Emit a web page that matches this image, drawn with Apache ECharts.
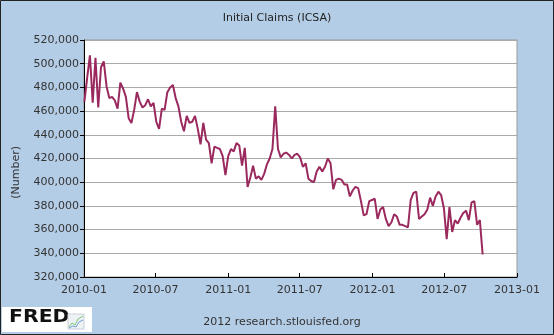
<!DOCTYPE html>
<html>
<head>
<meta charset="utf-8">
<script src="https://cdn.jsdelivr.net/npm/echarts@6/dist/echarts.min.js"></script>
<style>
  html, body { margin: 0; padding: 0; background: #b4cde6; }
  #chart { width: 554px; height: 335px; }
</style>
</head>
<body>
<div id="chart"></div>
<script>
// Weekly initial unemployment claims, seasonally adjusted (weeks ending Saturday)
const firstWeekEnding = '2010-01-02';
const claims = [
  468000, 488000, 507000, 467000, 505000, 463000, 497000, 502000, 481000, 471000,
  472000, 469000, 462000, 484000, 479000, 472000, 454000, 450000, 461000, 476000,
  468000, 463000, 465000, 470000, 464000, 467000, 451000, 445000, 462000, 461000,
  476000, 480000, 482000, 471000, 464000, 451000, 443000, 456000, 450000, 451000,
  456000, 445000, 432000, 450000, 436000, 433000, 416000, 430000, 429000, 428000,
  422000, 406000, 422000, 428000, 426000, 433000, 431000, 414000, 429000, 396000,
  404000, 414000, 403000, 405000, 402000, 407000, 415000, 420000, 428000, 464000,
  428000, 421000, 424000, 425000, 423000, 420000, 423000, 424000, 421000, 413000,
  416000, 403000, 401000, 400000, 409000, 413000, 409000, 413000, 420000, 416000,
  394000, 402000, 403000, 402000, 398000, 398000, 388000, 393000, 396000, 395000,
  384000, 372000, 373000, 384000, 385000, 386000, 369000, 377000, 379000, 369000,
  363000, 366000, 373000, 371000, 364000, 364000, 363000, 362000, 385000, 391000,
  392000, 369000, 371000, 373000, 377000, 387000, 380000, 388000, 392000, 389000,
  378000, 352000, 379000, 358000, 368000, 365000, 370000, 374000, 376000, 368000,
  383000, 384000, 364000, 368000, 339000
];
const yTicks = [320000, 340000, 360000, 380000, 400000, 420000, 440000, 460000, 480000, 500000, 520000];
const xRange = ['2010-01-01', '2013-01-01'];

function pad(n) { return (n < 10 ? '0' : '') + n; }

// one week-ending date per observation
const weekEndings = [];
{
  const d = new Date(firstWeekEnding + 'T00:00:00');
  for (let i = 0; i < claims.length; i++) {
    weekEndings.push(d.getFullYear() + '-' + pad(d.getMonth() + 1) + '-' + pad(d.getDate()));
    d.setDate(d.getDate() + 7);
  }
}
const seriesData = weekEndings.map((w, i) => [w, claims[i]]);

const FONT = 'DejaVu Sans';
const TEXT = '#333333';

const chart = echarts.init(document.getElementById('chart'), null, { renderer: 'canvas' });
chart.setOption({
  backgroundColor: '#b4cde6',
  animation: false,
  title: {
    text: 'Initial Claims (ICSA)',
    left: 'center',
    top: 8,
    textStyle: { fontFamily: FONT, fontSize: 11, fontWeight: 'normal', color: '#222222' }
  },
  grid: {
    left: 84, top: 40, right: 37, bottom: 58,
    show: true, backgroundColor: '#ffffff', borderColor: '#999999', borderWidth: 1
  },
  xAxis: {
    type: 'time',
    min: xRange[0],
    max: xRange[1],
    splitNumber: 6,
    axisLine: { show: true, lineStyle: { color: '#000000', width: 1 } },
    axisTick: { show: true, inside: true, length: 4, lineStyle: { color: '#000000' } },
    axisLabel: {
      show: true, margin: 8, color: TEXT, fontFamily: FONT, fontSize: 11,
      showMinLabel: true, showMaxLabel: true, hideOverlap: false,
      formatter: function (v) {
        const d = new Date(v);
        return d.getFullYear() + '-' + pad(d.getMonth() + 1);
      }
    },
    splitLine: { show: false }
  },
  yAxis: {
    type: 'value',
    min: yTicks[0],
    max: yTicks[yTicks.length - 1],
    interval: yTicks[1] - yTicks[0],
    axisLine: { show: true, lineStyle: { color: '#000000', width: 1 } },
    axisTick: { show: true, inside: false, length: 4, lineStyle: { color: '#000000' } },
    axisLabel: {
      margin: 5, color: TEXT, fontFamily: FONT, fontSize: 11,
      formatter: function (v) { return v.toLocaleString('en-US'); }
    },
    splitLine: { show: true, lineStyle: { color: '#aaaaaa', width: 1 } }
  },
  series: [{
    type: 'line',
    data: seriesData,
    showSymbol: false,
    symbol: 'none',
    lineStyle: { color: '#9a2a5e', width: 2 },
    z: 3
  }],
  graphic: [
    {
      type: 'text', left: 11, top: 146, rotation: Math.PI / 2,
      style: { text: '(Number)', font: '11px ' + FONT, fill: TEXT }
    },
    {
      type: 'text', x: 282, y: 322,
      style: { text: '2012 research.stlouisfed.org', font: '11px ' + FONT, fill: TEXT,
               align: 'center', verticalAlign: 'middle' }
    },
    {
      type: 'rect', shape: { x: 2, y: 307, width: 90, height: 25 },
      style: { fill: '#ffffff' }, silent: true
    },
    {
      type: 'text', x: 9, y: 318, scaleX: 1.2,
      style: { text: 'FRED', font: 'bold 17px ' + FONT, fill: '#111111', verticalAlign: 'middle' }
    },
    {
      type: 'rect', shape: { x: 68, y: 314, width: 16, height: 15 },
      style: { fill: '#eef2f4', stroke: '#c8d0d8', lineWidth: 1 }, silent: true
    },
    {
      type: 'polyline', shape: { points: [[69, 327], [72, 323], [75, 325], [78, 319], [83, 316]] },
      style: { stroke: '#7cc47c', lineWidth: 1, fill: null }, silent: true
    },
    {
      type: 'polyline', shape: { points: [[69, 328], [73, 326], [76, 327], [79, 322], [83, 320]] },
      style: { stroke: '#6d9fd0', lineWidth: 1, fill: null }, silent: true
    },
    {
      type: 'rect', shape: { x: 0.5, y: 0.5, width: 553, height: 334 },
      style: { fill: null, stroke: '#222222', lineWidth: 1 }, silent: true, z: 100
    }
  ]
});
</script>
</body>
</html>
